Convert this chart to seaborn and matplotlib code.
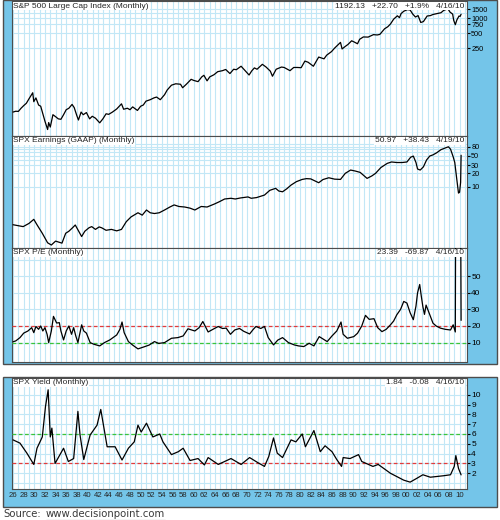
# =========================================
# S&P 500 / EARNINGS / P/E / YIELD (MONTHLY)
# =========================================

import matplotlib
matplotlib.use("Agg")

import matplotlib.pyplot as plt
import seaborn as sns

from matplotlib.ticker import MultipleLocator, FixedLocator, NullFormatter
from matplotlib.patches import Rectangle
from matplotlib.lines import Line2D


# =========================================
# DATA
# =========================================

sp_years = [
    1926.0, 1926.5, 1927.0, 1927.5, 1928.0, 1928.5, 1929.0, 1929.7, 1929.9, 1930.3,
    1930.8, 1931.2, 1931.7, 1932.0, 1932.5, 1932.7, 1933.0, 1933.5, 1934.0, 1934.5,
    1935.0, 1935.5, 1936.0, 1936.5, 1937.1, 1937.5, 1938.0, 1938.3, 1938.8, 1939.2,
    1939.8, 1940.4, 1940.9, 1941.5, 1942.3, 1942.9, 1943.5, 1944.0, 1944.7, 1945.5,
    1946.4, 1946.8, 1947.5, 1948.0, 1948.5, 1949.4, 1950.0, 1950.5, 1951.0, 1951.8,
    1952.5, 1953.0, 1953.7, 1954.5, 1955.0, 1955.8, 1956.6, 1957.5, 1957.9, 1958.6,
    1959.5, 1960.0, 1960.8, 1961.5, 1961.9, 1962.5, 1963.0, 1963.8, 1964.5, 1965.4,
    1966.0, 1966.8, 1967.5, 1968.0, 1968.9, 1969.5, 1970.4, 1970.9, 1971.4, 1971.9,
    1972.9, 1973.6, 1974.4, 1974.8, 1975.5, 1976.5, 1977.0, 1978.1, 1978.8, 1979.5,
    1980.2, 1980.9, 1981.5, 1982.5, 1983.5, 1984.5, 1985.0, 1985.9, 1986.5, 1987.6,
    1987.9, 1988.5, 1989.0, 1989.7, 1990.2, 1990.8, 1991.2, 1991.9, 1992.8, 1993.8,
    1994.5, 1995.0, 1995.9, 1996.5, 1997.0, 1997.6, 1998.3, 1998.7, 1999.0, 1999.5,
    2000.2, 2000.7, 2001.2, 2001.7, 2002.2, 2002.7, 2003.2, 2003.9, 2004.5, 2005.0,
    2005.8, 2006.5, 2007.0, 2007.8, 2008.2, 2008.7, 2008.9, 2009.2, 2009.5, 2009.9,
    2010.1, 2010.29
]
sp_values = [
    13.0, 13.5, 13.4, 15.5, 17.5, 19.5, 24.0, 31.7, 21.0, 25.0,
    18.0, 17.0, 11.0, 8.5, 5.8, 8.0, 6.5, 11.5, 10.5, 9.5,
    9.3, 11.5, 14.5, 15.5, 18.5, 16.0, 11.0, 9.0, 13.0, 11.5,
    12.7, 9.5, 10.7, 9.8, 7.9, 9.5, 12.0, 11.7, 13.0, 15.0,
    19.0, 14.8, 15.5, 14.5, 16.5, 14.0, 17.0, 18.0, 21.5, 23.0,
    25.0, 26.0, 23.0, 29.0, 36.0, 45.0, 48.0, 47.0, 40.0, 47.0,
    59.0, 56.0, 53.0, 66.0, 71.0, 55.0, 66.0, 73.0, 84.0, 88.0,
    93.0, 77.0, 94.0, 92.0, 108.0, 92.0, 72.0, 87.0, 100.0, 94.0,
    118.0, 104.0, 86.0, 68.0, 94.0, 104.0, 102.0, 88.0, 102.0, 102.0,
    101.0, 137.0, 130.0, 108.0, 165.0, 152.0, 180.0, 212.0, 250.0, 325.0,
    240.0, 270.0, 295.0, 350.0, 330.0, 305.0, 375.0, 418.0, 415.0, 465.0,
    458.0, 470.0, 610.0, 670.0, 760.0, 950.0, 1110.0, 1020.0, 1230.0, 1370.0,
    1480.0, 1450.0, 1200.0, 1050.0, 1120.0, 815.0, 850.0, 1100.0, 1120.0, 1180.0,
    1230.0, 1280.0, 1420.0, 1540.0, 1320.0, 1200.0, 900.0, 735.0, 920.0, 1100.0,
    1080.0, 1192.13
]

eps_years = [
    1926.0, 1927.9, 1929.0, 1929.9, 1930.5, 1931.5, 1932.5, 1933.2, 1934.0, 1935.2,
    1935.9, 1936.5, 1937.2, 1937.7, 1938.9, 1939.5, 1940.3, 1940.8, 1941.5, 1942.2,
    1942.7, 1943.5, 1944.5, 1945.5, 1946.4, 1947.3, 1948.2, 1949.5, 1950.3, 1951.1,
    1951.8, 1952.6, 1953.5, 1954.5, 1955.5, 1956.3, 1957.2, 1958.3, 1959.3, 1960.2,
    1961.4, 1962.5, 1963.9, 1964.8, 1965.8, 1967.0, 1967.8, 1968.8, 1970.2, 1970.8,
    1971.8, 1973.3, 1974.3, 1975.4, 1976.0, 1976.7, 1977.5, 1978.3, 1979.3, 1980.4,
    1981.2, 1982.0, 1983.5, 1984.3, 1985.4, 1986.5, 1987.6, 1988.5, 1989.5, 1990.4,
    1991.3, 1992.6, 1993.5, 1994.2, 1995.2, 1996.4, 1997.2, 1998.2, 1999.2, 2000.1,
    2000.8, 2001.3, 2001.8, 2002.1, 2002.6, 2003.2, 2003.8, 2004.4, 2005.0, 2005.7,
    2006.5, 2007.4, 2007.9, 2008.3, 2008.8, 2009.1, 2009.5, 2009.8, 2010.0, 2010.2,
    2010.29
]
eps_values = [
    1.4, 1.27, 1.5, 1.85, 1.4, 0.9, 0.55, 0.49, 0.6, 0.54,
    0.9, 1.0, 1.2, 1.38, 0.76, 1.0, 1.2, 1.27, 1.1, 1.25,
    1.19, 1.05, 1.1, 1.02, 1.1, 1.64, 2.1, 2.6, 2.3, 3.0,
    2.6, 2.5, 2.6, 3.0, 3.5, 3.9, 3.6, 3.5, 3.3, 3.0,
    3.6, 3.5, 4.1, 4.6, 5.3, 5.5, 5.3, 5.6, 5.9, 5.5,
    5.7, 6.5, 8.3, 9.2, 8.0, 7.7, 9.0, 10.9, 13.0, 14.6,
    15.2, 15.0, 12.3, 14.5, 15.9, 14.8, 14.6, 20.0, 23.7, 22.5,
    21.0, 15.4, 17.5, 20.0, 27.0, 33.5, 36.0, 35.0, 35.0, 36.0,
    46.0, 48.8, 35.0, 25.0, 23.7, 28.0, 40.0, 49.0, 52.0, 58.0,
    68.0, 75.0, 79.0, 70.0, 47.0, 35.0, 14.0, 7.2, 7.5, 12.54,
    50.97
]

pe_years = [
    1926.0, 1926.5, 1927.3, 1928.0, 1928.8, 1929.5, 1929.9, 1930.3, 1930.8, 1931.2,
    1931.6, 1932.0, 1932.4, 1932.7, 1933.2, 1933.6, 1934.2, 1934.7, 1935.0, 1935.5,
    1936.0, 1936.5, 1937.0, 1937.4, 1937.8, 1938.2, 1938.6, 1938.9, 1939.3, 1939.8,
    1940.5, 1941.2, 1942.3, 1943.2, 1944.2, 1945.5, 1946.1, 1946.5, 1946.9, 1947.7,
    1948.5, 1949.5, 1950.8, 1951.6, 1952.6, 1953.4, 1954.5, 1955.8, 1957.0, 1958.0,
    1958.9, 1960.2, 1961.0, 1961.7, 1962.7, 1963.6, 1964.6, 1965.4, 1966.1, 1966.9,
    1967.7, 1968.6, 1969.4, 1970.5, 1971.2, 1971.7, 1972.6, 1973.3, 1974.0, 1975.0,
    1975.8, 1976.7, 1977.8, 1978.9, 1979.7, 1980.7, 1981.7, 1982.6, 1983.6, 1984.4,
    1985.1, 1986.0, 1986.9, 1987.7, 1988.1, 1988.9, 1990.1, 1990.8, 1991.6, 1992.3,
    1993.0, 1993.9, 1994.6, 1995.4, 1996.2, 1997.0, 1997.6, 1998.2, 1998.9, 1999.5,
    2000.1, 2000.7, 2001.3, 2001.8, 2002.1, 2002.5, 2002.8, 2003.1, 2003.4, 2003.7,
    2004.3, 2005.0, 2005.6, 2006.4, 2007.3, 2008.3, 2008.8, 2009.2, 2009.3, 2010.2,
    2010.29
]
pe_values = [
    10.5, 11.0, 13.0, 15.7, 17.0, 19.0, 16.0, 19.7, 18.0, 20.0,
    17.0, 19.0, 15.0, 10.0, 17.0, 25.8, 21.8, 22.0, 17.0, 11.6,
    17.0, 20.0, 15.0, 19.0, 14.0, 10.0, 16.0, 20.7, 17.0, 15.7,
    10.0, 9.0, 8.0, 10.0, 11.6, 14.6, 18.0, 22.4, 16.0, 10.6,
    8.5, 6.2, 7.6, 8.5, 10.6, 9.5, 10.0, 12.6, 13.0, 14.0,
    18.3, 17.0, 19.0, 22.7, 16.4, 18.0, 19.7, 18.5, 18.7, 15.0,
    17.6, 18.5, 16.8, 15.2, 18.0, 19.7, 18.5, 19.7, 13.0, 8.6,
    11.5, 13.0, 10.0, 8.6, 8.0, 7.6, 9.6, 8.0, 13.6, 12.0,
    10.6, 14.0, 17.0, 22.4, 15.0, 12.6, 13.6, 15.6, 20.0, 26.4,
    24.0, 24.4, 19.0, 16.6, 18.0, 20.7, 23.0, 26.8, 30.0, 34.8,
    33.8, 28.0, 23.8, 32.0, 40.0, 45.0, 38.0, 31.6, 27.0, 32.6,
    27.6, 21.7, 20.0, 18.7, 18.0, 17.6, 20.7, 16.4, 125.0, 93.26,
    23.39
]

yld_years = [
    1926.0, 1927.3, 1928.6, 1929.9, 1930.5, 1931.5, 1932.1, 1932.6, 1933.0, 1933.3,
    1933.9, 1935.5, 1936.4, 1937.4, 1938.2, 1938.6, 1939.3, 1940.5, 1941.8, 1942.5,
    1943.7, 1945.2, 1946.5, 1947.7, 1948.8, 1949.5, 1950.1, 1951.1, 1952.3, 1953.6,
    1954.2, 1955.8, 1957.1, 1958.0, 1959.3, 1960.8, 1962.0, 1962.7, 1964.6, 1967.0,
    1968.9, 1970.5, 1972.0, 1973.3, 1974.1, 1975.0, 1975.7, 1976.7, 1978.3, 1979.2,
    1980.4, 1981.0, 1982.6, 1983.8, 1984.7, 1986.0, 1986.9, 1987.8, 1988.1, 1989.4,
    1991.0, 1991.6, 1993.7, 1994.7, 1997.0, 1999.5, 2000.7, 2002.0, 2003.1, 2004.5,
    2007.0, 2008.3, 2009.0, 2009.3, 2009.8, 2010.29
]
yld_values = [
    5.4, 5.07, 4.05, 2.9, 4.55, 5.7, 8.8, 10.5, 5.7, 6.6,
    3.0, 4.55, 3.2, 3.5, 8.3, 5.9, 3.4, 5.9, 6.9, 8.5,
    4.7, 4.7, 3.35, 4.55, 5.2, 6.9, 6.2, 7.1, 5.7, 6.0,
    5.2, 3.9, 4.2, 4.55, 3.3, 3.5, 2.85, 3.6, 2.9, 3.5,
    2.9, 3.6, 3.1, 2.7, 3.7, 5.6, 4.05, 3.6, 5.4, 5.2,
    6.0, 4.7, 6.35, 4.2, 4.8, 4.2, 3.4, 2.7, 3.6, 3.5,
    3.9, 3.2, 2.7, 2.9, 2.0, 1.3, 1.1, 1.5, 1.85, 1.6,
    1.75, 1.85, 2.7, 3.8, 2.5, 1.84
]

year_ticks = list(range(1926, 2011, 2))
year_labels = ["%02d" % (y % 100) for y in year_ticks]

sp_ticks = [250, 500, 750, 1000, 1500]
sp_grid = [1250]
eps_ticks = [10, 20, 30, 50, 80]
eps_grid = [40, 60, 70, 90]
pe_ticks = [10, 20, 30, 40, 50]
pe_grid = [60]
yld_ticks = [2, 3, 4, 5, 6, 7, 8, 9, 10]
yld_grid = [1, 11]

titles = [
    "S&P 500 Large Cap Index (Monthly)",
    "SPX Earnings (GAAP) (Monthly)",
    "SPX P/E (Monthly)",
    "SPX Yield (Monthly)",
]
infos = [
    "1192.13   +22.70   +1.9%   4/16/10",
    "50.97   +38.43   4/19/10",
    "23.39   -69.87   4/16/10",
    "1.84   -0.08   4/16/10",
]


# =========================================
# STYLE
# =========================================

sns.set_style("white")
plt.rcParams["font.family"] = ["Liberation Sans", "DejaVu Sans"]

BLUE = "#74C5E9"
GRID = "#C2E7F6"
BORDER = "#4d4d4d"
RED = "#E23B3B"
GREEN = "#3BC43B"

W, H = 500, 520
fig = plt.figure(figsize=(W / 100, H / 100), dpi=100)


def px_axes(x0, y0, x1, y1):
    return fig.add_axes([x0 / W, 1 - y1 / H, (x1 - x0) / W, (y1 - y0) / H])


# blue frames behind the panels
for y0, y1 in [(0, 364), (377, 507)]:
    fig.add_artist(Rectangle(
        (3 / W, 1 - y1 / H), 494 / W, (y1 - y0) / H,
        transform=fig.transFigure,
        facecolor=BLUE, edgecolor=BORDER, lw=1, zorder=-1
    ))

ax1 = px_axes(12, 1, 467, 136)
ax2 = px_axes(12, 136, 467, 248)
ax3 = px_axes(12, 248, 467, 362)
ax4 = px_axes(12, 378, 467, 489)
axes = [ax1, ax2, ax3, ax4]


# =========================================
# LINES
# =========================================

series = [
    (sp_years, sp_values),
    (eps_years, eps_values),
    (pe_years, pe_values),
    (yld_years, yld_values),
]

for ax, (xs, ys) in zip(axes, series):
    sns.lineplot(x=xs, y=ys, ax=ax, color="black", lw=0.9, zorder=5)

ax1.set_yscale("log")
ax2.set_yscale("log")

ax1.set_ylim(4.3, 2200)
ax2.set_ylim(0.42, 138)
ax3.set_ylim(-1.7, 67)
ax4.set_ylim(0.4, 11.7)

ticks = [
    (ax1, sp_ticks, sp_grid),
    (ax2, eps_ticks, eps_grid),
    (ax3, pe_ticks, pe_grid),
    (ax4, yld_ticks, yld_grid),
]
for ax, major, minor in ticks:
    ax.yaxis.set_major_locator(FixedLocator(major))
    ax.set_yticklabels([str(t) for t in major])
    ax.yaxis.set_minor_locator(FixedLocator(minor))
    ax.yaxis.set_minor_formatter(NullFormatter())

# reference levels
dash = (0, (3, 2))
ax3.axhline(20, color=RED, lw=0.9, ls=dash, zorder=3)
ax3.axhline(10, color=GREEN, lw=0.9, ls=dash, zorder=3)
ax4.axhline(6, color=GREEN, lw=0.9, ls=dash, zorder=3)
ax4.axhline(3, color=RED, lw=0.9, ls=dash, zorder=3)


# =========================================
# AXES STYLE
# =========================================

for ax, title, info in zip(axes, titles, infos):
    ax.set_facecolor("white")
    ax.set_xlim(1925.8, 2011.4)
    ax.set_xticks(year_ticks)
    ax.xaxis.set_minor_locator(MultipleLocator(1))
    ax.grid(which="both", axis="both", color=GRID, lw=0.8, zorder=0)
    ax.set_axisbelow(True)
    ax.yaxis.tick_right()
    ax.tick_params(axis="y", which="major", labelsize=6, length=2,
                   pad=1, colors="black")
    ax.tick_params(axis="y", which="minor", length=0)
    ax.tick_params(axis="x", which="both", length=0)
    ax.set_xlabel("")
    ax.set_ylabel("")
    for s in ax.spines.values():
        s.set_color(BORDER)
        s.set_linewidth(0.8)
    ax.text(0.003, 0.988, title, transform=ax.transAxes,
            ha="left", va="top", fontsize=6, zorder=10,
            bbox=dict(facecolor="white", edgecolor="none", pad=0.5))
    ax.text(0.994, 0.988, info, transform=ax.transAxes,
            ha="right", va="top", fontsize=6, zorder=10,
            bbox=dict(facecolor="white", edgecolor="none", pad=0.5))

# the crowded top of the log scales gets a smaller font
ax1.tick_params(axis="y", which="major", labelsize=5.3)
ax2.tick_params(axis="y", which="major", labelsize=5.3)

for ax in [ax1, ax2, ax3]:
    ax.set_xticklabels([])

ax4.set_xticklabels(year_labels, fontsize=5.6)
ax4.tick_params(axis="x", pad=2)


# =========================================
# SOURCE
# =========================================

src = fig.text(3 / W, 1 - 514 / H, "Source:", fontsize=7.3,
               family="DejaVu Sans", color="#3a3a3a", va="center")
fig.canvas.draw()
bb = src.get_window_extent()
url = fig.text((bb.x1 + 5) / W, 1 - 514 / H, "www.decisionpoint.com",
               fontsize=7.3, family="DejaVu Sans", color="#3a3a3a",
               va="center")
fig.canvas.draw()
ub = url.get_window_extent()
fig.add_artist(Line2D([ub.x0 / W, ub.x1 / W], [(ub.y0 - 0.5) / H] * 2,
                      transform=fig.transFigure, color="#3a3a3a", lw=0.8))

plt.savefig("out.png", dpi=100)
